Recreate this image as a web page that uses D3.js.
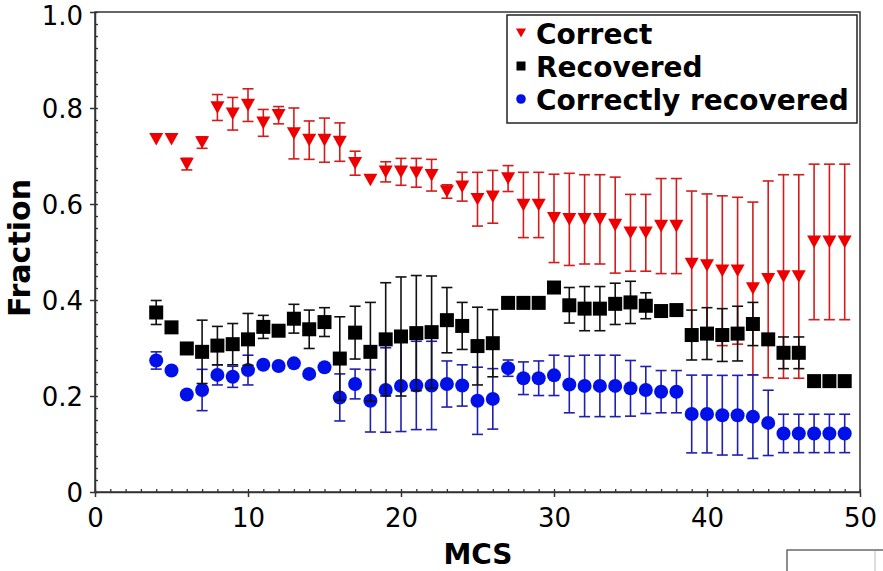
<!DOCTYPE html>
<html>
<head>
<meta charset="utf-8">
<script src="https://cdn.jsdelivr.net/npm/d3@7"></script>
<style>
  html, body { margin: 0; padding: 0; background: #fff; }
  svg { display: block; }
  text { font-family: "DejaVu Sans", sans-serif; fill: #000; }
</style>
</head>
<body>
<script>
// MCS steps
const mcs = d3.range(4, 50);

// Fraction of correct structures, with error
const correct = [0.735,0.735,0.683,0.728,0.801,0.788,0.806,0.769,0.785,0.747,0.733,0.733,0.729,0.685,0.650,0.667,
  0.667,0.665,0.660,0.626,0.636,0.610,0.615,0.653,0.598,0.598,0.570,0.568,0.568,0.568,0.556,0.540,0.540,0.554,0.554,
  0.475,0.472,0.461,0.461,0.424,0.443,0.449,0.449,0.521,0.521,0.521];
const correctErr = [0,0,0.012,0.012,0.027,0.034,0.034,0.028,0.018,0.053,0.040,0.046,0.040,0.025,0,0.021,
  0.028,0.030,0.033,0.014,0.030,0.056,0.055,0.027,0.068,0.068,0.092,0.096,0.093,0.093,0.100,0.080,0.080,0.099,0.099,
  0.152,0.149,0.156,0.153,0.180,0.205,0.212,0.212,0.162,0.162,0.162];

// Fraction recovered, with error
const recovered = [0.374,0.343,0.299,0.292,0.305,0.308,0.318,0.344,0.336,0.361,0.339,0.354,0.278,0.332,0.292,0.318,
  0.324,0.331,0.333,0.358,0.346,0.304,0.310,0.394,0.394,0.394,0.426,0.389,0.382,0.382,0.392,0.395,0.388,0.377,0.379,
  0.327,0.330,0.327,0.330,0.350,0.318,0.290,0.290,0.231,0.231,0.231];
const recoveredErr = [0.025,0,0,0.066,0.040,0.043,0.054,0.024,0,0.030,0.040,0.030,0.087,0.055,0.103,0.118,
  0.124,0.120,0.117,0.068,0.049,0.081,0.070,0,0,0,0,0.037,0.046,0.046,0.043,0.044,0.027,0,0,
  0.052,0.054,0.055,0.057,0.045,0,0.033,0.033,0,0,0];

// Fraction correctly recovered, with error
const correctlyRecovered = [0.274,0.253,0.203,0.2125,0.244,0.240,0.254,0.265,0.2625,0.268,0.246,0.260,0.197,0.225,0.190,0.2125,
  0.221,0.222,0.222,0.225,0.222,0.190,0.194,0.258,0.237,0.237,0.243,0.224,0.221,0.221,0.221,0.216,0.2125,0.209,0.209,
  0.1625,0.1625,0.160,0.160,0.157,0.144,0.122,0.122,0.122,0.122,0.122];
const correctlyRecoveredErr = [0.018,0,0,0.043,0.021,0.022,0.031,0,0,0,0,0,0.049,0.031,0.065,0.088,
  0.095,0.092,0.092,0.048,0.043,0.070,0.063,0.017,0.034,0.036,0.042,0.059,0.064,0.064,0.064,0.058,0.049,0.044,0.044,
  0.081,0.081,0.083,0.083,0.087,0.068,0.040,0.040,0.040,0.040,0.040];

const xTicks = [0, 10, 20, 30, 40, 50];
const yTicks = [0, 0.2, 0.4, 0.6, 0.8, 1.0];
const legendLabels = ["Correct", "Recovered", "Correctly recovered"];

const W = 883, H = 571;
const svg = d3.select("body").append("svg").attr("width", W).attr("height", H);

const x = d3.scaleLinear().domain([0, 50]).range([95, 860]);
const y = d3.scaleLinear().domain([0, 1]).range([492, 12]);

// frame
svg.append("rect")
  .attr("x", x(0)).attr("y", y(1))
  .attr("width", x(50) - x(0)).attr("height", y(0) - y(1))
  .attr("fill", "none").attr("stroke", "#333").attr("stroke-width", 1.5);

// minor ticks
const xMinor = d3.axisBottom(x).tickValues(d3.range(0, 51, 1)).tickSize(-3).tickFormat("");
const yMinor = d3.axisLeft(y).tickValues(d3.range(0, 1.0001, 0.025)).tickSize(-3).tickFormat("");
svg.append("g").attr("transform", `translate(0,${y(0)})`).call(xMinor)
  .call(g => g.select(".domain").remove())
  .call(g => g.selectAll("line").attr("stroke", "#333").attr("stroke-width", 1.3));
svg.append("g").attr("transform", `translate(${x(0)},0)`).call(yMinor)
  .call(g => g.select(".domain").remove())
  .call(g => g.selectAll("line").attr("stroke", "#333").attr("stroke-width", 1.3));

// major axes
const xAxis = d3.axisBottom(x).tickValues(xTicks).tickSizeInner(5).tickSizeOuter(0).tickPadding(12)
  .tickFormat(d3.format("d"));
const yAxis = d3.axisLeft(y).tickValues(yTicks).tickSizeInner(5).tickSizeOuter(0).tickPadding(7)
  .tickFormat(d => d === 0 ? "0" : d3.format(".1f")(d));

svg.append("g").attr("transform", `translate(0,${y(0)})`).call(xAxis)
  .call(g => g.select(".domain").attr("stroke", "#333").attr("stroke-width", 1.5))
  .call(g => g.selectAll("line").attr("stroke", "#333").attr("stroke-width", 1.5))
  .call(g => g.selectAll("text").attr("font-family", "DejaVu Sans").attr("font-size", 26).attr("fill", "#000"));
svg.append("g").attr("transform", `translate(${x(0)},0)`).call(yAxis)
  .call(g => g.select(".domain").attr("stroke", "#333").attr("stroke-width", 1.5))
  .call(g => g.selectAll("line").attr("stroke", "#333").attr("stroke-width", 1.5))
  .call(g => g.selectAll("text").attr("font-family", "DejaVu Sans").attr("font-size", 26).attr("fill", "#000")
    .attr("dy", d => d === 1 ? "0.47em" : "0.36em"));

// axis titles
svg.append("text").attr("x", 478).attr("y", 564).attr("text-anchor", "middle")
  .attr("font-weight", "bold").attr("font-size", 28).text("MCS");
svg.append("text").attr("transform", "translate(30,248) rotate(-90)").attr("text-anchor", "middle")
  .attr("font-weight", "bold").attr("font-size", 30).text("Fraction");

// series drawing
const capW = 5.5;
function errorBars(vals, errs, color) {
  const g = svg.append("g").attr("stroke", color).attr("stroke-width", 1.6).attr("fill", "none");
  mcs.forEach((m, i) => {
    const e = errs[i];
    if (!e) return;
    const cx = x(m), y1 = y(vals[i] + e), y2 = y(vals[i] - e);
    g.append("line").attr("x1", cx).attr("x2", cx).attr("y1", y1).attr("y2", y2);
    g.append("line").attr("x1", cx - capW).attr("x2", cx + capW).attr("y1", y1).attr("y2", y1);
    g.append("line").attr("x1", cx - capW).attr("x2", cx + capW).attr("y1", y2).attr("y2", y2);
  });
}
function triangle(cx, cy, s) {
  return `M${cx - s},${cy - s * 0.9}L${cx + s},${cy - s * 0.9}L${cx},${cy + s * 0.9}Z`;
}

// Correct (red triangles)
errorBars(correct, correctErr, "#d41c1c");
svg.append("g").selectAll("path").data(mcs).join("path")
  .attr("d", (m, i) => triangle(x(m), y(correct[i]), 7))
  .attr("fill", "#ee0000");

// Correctly recovered (blue circles)
errorBars(correctlyRecovered, correctlyRecoveredErr, "#1f1fb0");
svg.append("g").selectAll("circle").data(mcs).join("circle")
  .attr("cx", m => x(m)).attr("cy", (m, i) => y(correctlyRecovered[i])).attr("r", 7)
  .attr("fill", "#0010e8");

// Recovered (black squares)
errorBars(recovered, recoveredErr, "#111");
svg.append("g").selectAll("rect").data(mcs).join("rect")
  .attr("x", m => x(m) - 7).attr("y", (m, i) => y(recovered[i]) - 7)
  .attr("width", 14).attr("height", 14).attr("fill", "#000");

// legend
const lg = svg.append("g");
lg.append("rect").attr("x", 507).attr("y", 15).attr("width", 350).attr("height", 108)
  .attr("fill", "#fff").attr("stroke", "#222").attr("stroke-width", 1.5);
const rows = [33, 66, 99];
lg.append("path").attr("d", triangle(521, rows[0], 5)).attr("fill", "#ee0000");
lg.append("rect").attr("x", 516.5).attr("y", rows[1] - 4.5).attr("width", 9).attr("height", 9).attr("fill", "#000");
lg.append("circle").attr("cx", 521).attr("cy", rows[2]).attr("r", 4.8).attr("fill", "#0010e8");
legendLabels.forEach((t, i) => {
  lg.append("text").attr("x", 536).attr("y", rows[i] + 11).attr("font-weight", "bold")
    .attr("font-size", 28).text(t);
});

// small box at the lower right edge
svg.append("rect").attr("x", 787).attr("y", 550).attr("width", 120).attr("height", 40)
  .attr("fill", "none").attr("stroke", "#444").attr("stroke-width", 1.2);
svg.append("line").attr("x1", 875).attr("x2", 875).attr("y1", 551).attr("y2", 571)
  .attr("stroke", "#bbb").attr("stroke-width", 1);
</script>
</body>
</html>
